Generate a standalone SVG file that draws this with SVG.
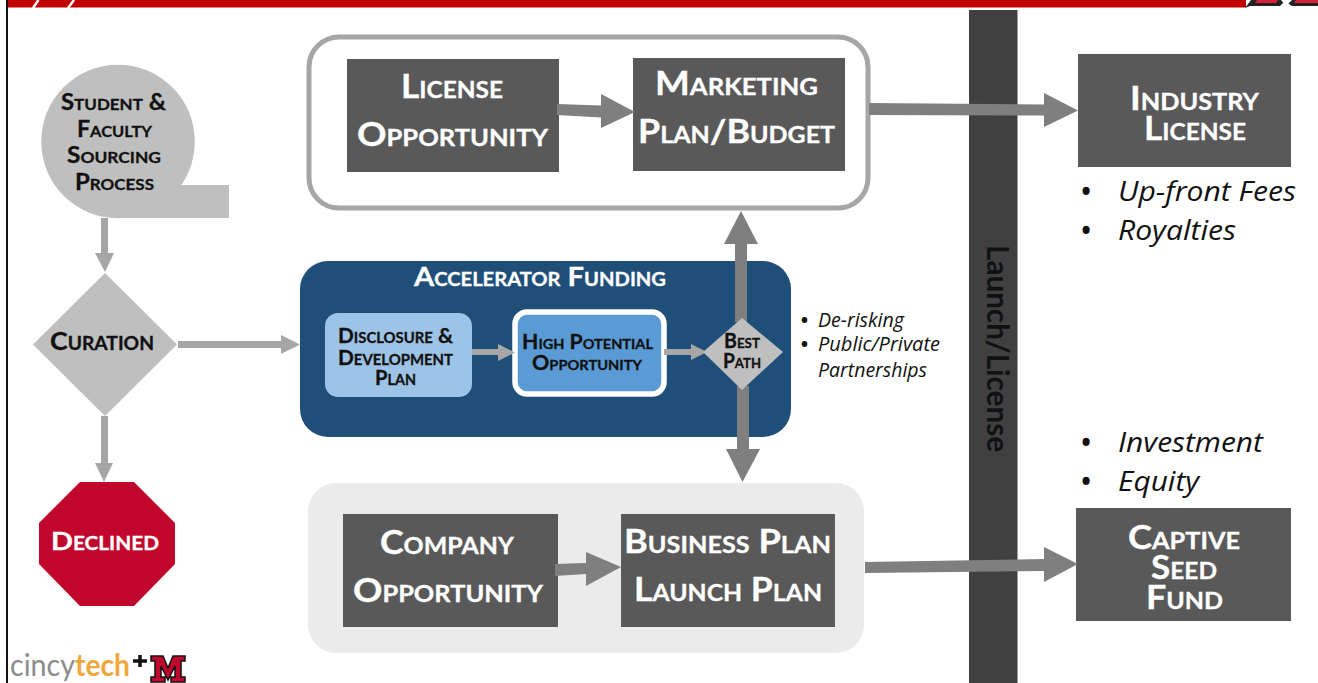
<svg xmlns="http://www.w3.org/2000/svg" width="1318" height="683" viewBox="0 0 1318 683">
<style>
text{font-family:Lato,"Liberation Sans",sans-serif;font-weight:700;text-anchor:middle;font-variant:small-caps}
.k{fill:#111;stroke:#111;stroke-width:.3}.w{fill:#fff;stroke:#fff;stroke-width:.3}
.it{font-family:"Open Sans","Liberation Sans",sans-serif;font-style:italic;font-weight:400;font-variant:normal;text-anchor:start;fill:#111}
.dk{fill:#595959}
.thin{fill:#a6a6a6}.thick{fill:#7f7f7f}
</style>
<rect width="1318" height="683" fill="#fff"/>
<g id="frame">
<rect x="7" y="0" width="1239" height="7.500" fill="#c00000"/>
<path d="M33 8L38.500 0M68 8L74 0" stroke="#fff" stroke-width="2.500" fill="none"/>
<rect x="6" y="0" width="2" height="683" fill="#111"/>
<path d="M1245 8L1251 0H1318V6H1292L1286 2H1284L1280 6H1250Z" fill="#222"/>
<path d="M1255 3L1257 0H1278L1276 3ZM1294 3L1296 0H1318V3Z" fill="#d9203a"/>
<path d="M1281 0H1292L1286 6Z" fill="#fff"/>
</g>
<g id="launch-bar"><rect x="969" y="10" width="48.500" height="673" fill="#404040"/>
<text transform="translate(987,245) rotate(90)" x="0" y="0" font-size="30" textLength="207" lengthAdjust="spacingAndGlyphs" style="font-variant:normal;text-anchor:start" fill="#111">Launch/License</text></g>
<g id="student-faculty-sourcing"><circle cx="118" cy="141.500" r="76.800" fill="#bfbfbf"/><rect x="118" y="185" width="111" height="33" fill="#bfbfbf"/>
<text class="k" x="113.500" y="110" font-size="22.500" textLength="105" lengthAdjust="spacingAndGlyphs">Student &amp;</text><text class="k" x="114.500" y="137" font-size="22.500" textLength="75" lengthAdjust="spacingAndGlyphs">Faculty</text><text class="k" x="114" y="163" font-size="22.500" textLength="94" lengthAdjust="spacingAndGlyphs">Sourcing</text><text class="k" x="114.500" y="190" font-size="22.500" textLength="79" lengthAdjust="spacingAndGlyphs">Process</text></g>
<g id="curation"><path d="M105 273L177 344.500L105 416L33 344.500Z" fill="#bfbfbf"/><text class="k" x="102" y="350" font-size="25" textLength="104" lengthAdjust="spacingAndGlyphs">Curation</text></g>
<g id="declined"><path d="M80 482H134L175 523V564L134 606H80L39 564V523Z" fill="#c1072b"/><text class="w" x="105" y="550" font-size="25" textLength="108" lengthAdjust="spacingAndGlyphs">Declined</text></g>
<g id="license-box"><rect x="309" y="37" width="559" height="171" rx="30" fill="#fff" stroke="#a6a6a6" stroke-width="5"/></g>
<g id="license-opportunity"><rect class="dk" x="347" y="59" width="212" height="113"/><text class="w" x="452" y="98" font-size="33" textLength="102" lengthAdjust="spacingAndGlyphs">License</text><text class="w" x="452.500" y="146" font-size="33" textLength="191" lengthAdjust="spacingAndGlyphs">Opportunity</text></g>
<g id="marketing-plan"><rect class="dk" x="633" y="58" width="212" height="113"/><text class="w" x="736.500" y="95" font-size="33" textLength="163" lengthAdjust="spacingAndGlyphs">Marketing</text><text class="w" x="736.500" y="143" font-size="33" textLength="197" lengthAdjust="spacingAndGlyphs">Plan/Budget</text></g>
<g id="accelerator-funding"><rect x="300" y="261" width="491" height="176" rx="28" fill="#1f4e79"/><text class="w" x="540" y="286" font-size="26" textLength="252" lengthAdjust="spacingAndGlyphs">Accelerator Funding</text></g>
<g id="disclosure"><rect x="325" y="313" width="147" height="84" rx="13" fill="#9dc3e6"/><text class="k" x="395.500" y="343" font-size="21" textLength="115" lengthAdjust="spacingAndGlyphs">Disclosure &amp;</text><text class="k" x="395.500" y="365" font-size="21" textLength="115" lengthAdjust="spacingAndGlyphs">Development</text><text class="k" x="395.500" y="385" font-size="21" textLength="41" lengthAdjust="spacingAndGlyphs">Plan</text></g>
<g id="high-potential"><rect x="515" y="312" width="149" height="82" rx="12" fill="#5b9bd5" stroke="#fff" stroke-width="5.500"/><text class="k" x="587.500" y="349" font-size="20.500" textLength="131" lengthAdjust="spacingAndGlyphs">High Potential</text><text class="k" x="587" y="370" font-size="20.500" textLength="110" lengthAdjust="spacingAndGlyphs">Opportunity</text></g>
<g id="company-box"><rect x="308" y="483" width="556" height="170" rx="28" fill="#ebebeb"/></g>
<g id="company-opportunity"><rect class="dk" x="343" y="514" width="215" height="113"/><text class="w" x="447" y="554" font-size="33" textLength="134" lengthAdjust="spacingAndGlyphs">Company</text><text class="w" x="448" y="602" font-size="33" textLength="190" lengthAdjust="spacingAndGlyphs">Opportunity</text></g>
<g id="business-plan"><rect class="dk" x="621" y="514" width="214" height="113"/><text class="w" x="727.500" y="553" font-size="33" textLength="207" lengthAdjust="spacingAndGlyphs">Business Plan</text><text class="w" x="728" y="601" font-size="33" textLength="188" lengthAdjust="spacingAndGlyphs">Launch Plan</text></g>
<g id="industry-license"><rect class="dk" x="1078" y="54" width="213" height="113"/><text class="w" x="1194.500" y="110" font-size="33" textLength="129" lengthAdjust="spacingAndGlyphs">Industry</text><text class="w" x="1195" y="140" font-size="33" textLength="102" lengthAdjust="spacingAndGlyphs">License</text></g>
<g id="captive-seed-fund"><rect class="dk" x="1076" y="508" width="215" height="113"/><text class="w" x="1184" y="549" font-size="33" textLength="112" lengthAdjust="spacingAndGlyphs">Captive</text><text class="w" x="1184" y="579" font-size="33" textLength="66" lengthAdjust="spacingAndGlyphs">Seed</text><text class="w" x="1184.500" y="609" font-size="33" textLength="77" lengthAdjust="spacingAndGlyphs">Fund</text></g>
<g id="connectors">
<path class="thin" d="M101 218H108V253H114L105 272L95 253H101Z"/>
<path class="thin" d="M101 416H108V463H113L104 482L95 463H101Z"/>
<path class="thin" d="M178 341H281V335L300 344.500L281 354V348H178Z"/>
<path class="thin" d="M472 349H498V344L515 352.500L498 361V355H472Z"/>
<path class="thin" d="M664 349H691V344L707 352L691 360V355H664Z"/>
<path class="thick" d="M735 322V244H724L741 211L758 244H747V322Z"/>
<path class="thick" d="M737 386H749V449H760L742.500 482L726 449H737Z"/>
<path class="thick" d="M557 104L601 105.500V94L635 112L601 128V117.500L557 115Z"/>
<path class="thick" d="M555 564L586 563V552L621 567L586 586V574L555 576Z"/>
<path class="thick" d="M869 103L1044 104.500V93L1078 110.500L1044 127V115.500L869 115Z"/>
<path class="thick" d="M865 562L1044 559V547L1078 564L1044 582V571L865 573Z"/>
</g>
<g id="best-path"><path d="M742 318L783 352L742 390L703 352Z" fill="#bfbfbf"/><text class="k" x="742" y="348" font-size="20.500" textLength="36" lengthAdjust="spacingAndGlyphs">Best</text><text class="k" x="742" y="368" font-size="20.500" textLength="38" lengthAdjust="spacingAndGlyphs">Path</text></g>
<g id="notes">
<text class="it" x="1079" y="203.500" font-size="34">•</text><text class="it" x="1118" y="201" font-size="28" textLength="178" lengthAdjust="spacingAndGlyphs">Up-front Fees</text>
<text class="it" x="1079" y="242.500" font-size="34">•</text><text class="it" x="1118" y="240" font-size="28" textLength="118" lengthAdjust="spacingAndGlyphs">Royalties</text>
<text class="it" x="1079" y="454.500" font-size="34">•</text><text class="it" x="1118" y="452" font-size="28" textLength="145" lengthAdjust="spacingAndGlyphs">Investment</text>
<text class="it" x="1079" y="493.500" font-size="34">•</text><text class="it" x="1118" y="491" font-size="28" textLength="81" lengthAdjust="spacingAndGlyphs">Equity</text>
<text class="it" x="799" y="328.500" font-size="26">•</text><text class="it" x="818" y="327" font-size="19.500" textLength="86" lengthAdjust="spacingAndGlyphs">De-risking</text>
<text class="it" x="799" y="352.500" font-size="26">•</text><text class="it" x="818" y="351" font-size="19.500" textLength="122" lengthAdjust="spacingAndGlyphs">Public/Private</text>
<text class="it" x="818" y="377" font-size="19.500" textLength="109" lengthAdjust="spacingAndGlyphs">Partnerships</text>
</g>
<g id="logo">
<text x="10" y="676" font-size="30" textLength="65" lengthAdjust="spacingAndGlyphs" style="text-anchor:start;font-variant:normal;font-weight:400" fill="#8c8c8c">cincy</text>
<text x="75" y="676" font-size="30" textLength="55" lengthAdjust="spacingAndGlyphs" style="text-anchor:start;font-variant:normal" fill="#f0a83c">tech</text>
<path d="M133 661H147M140 655V667" stroke="#111" stroke-width="3.500"/>
<path d="M151 656H163L168 668L173 656H185V661H181V677H185V682H171V677H175V666L168 680L161 666V677H165V682H151V677H155V661H151Z" fill="#c1072b" stroke="#111" stroke-width="1.500"/>
</g>
</svg>
